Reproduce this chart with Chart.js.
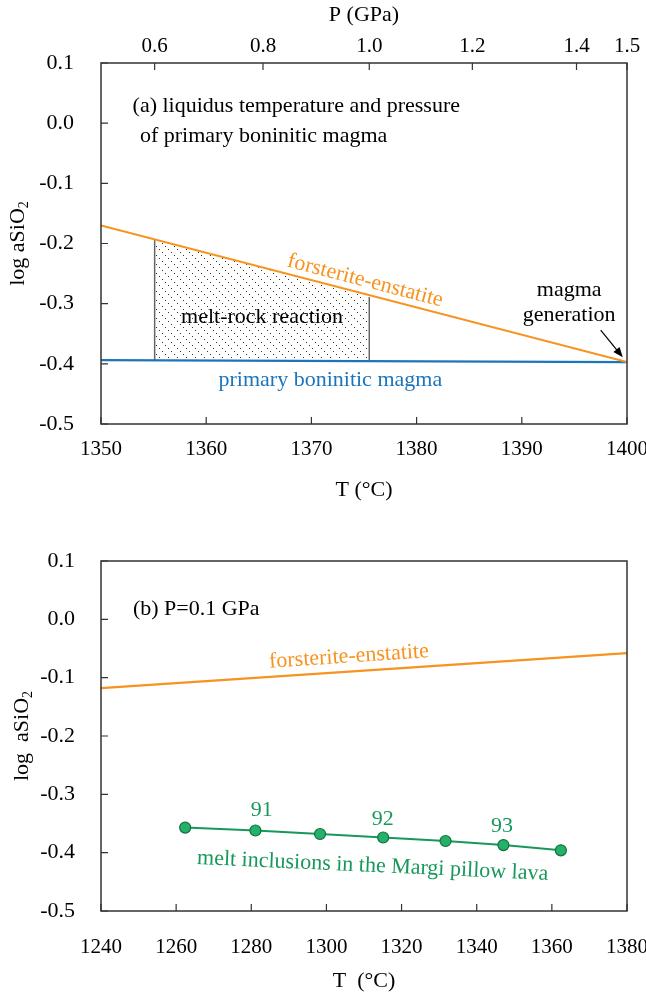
<!DOCTYPE html>
<html>
<head>
<meta charset="utf-8">
<script src="https://cdn.jsdelivr.net/npm/chart.js@4.4.1/dist/chart.umd.min.js"></script>
<style>
  body { margin: 0; background: #fff; }
  canvas { display: block; }
</style>
</head>
<body>
<canvas id="chartA" width="646" height="503"></canvas>
<canvas id="chartB" width="646" height="491"></canvas>
<script>
// ---- panel (a) data ----
const aTemps = [1350, 1400];
const aFoEn = [-0.170, -0.397];
const aPrimary = [-0.394, -0.397];
const hatchTemps = [1355.1, 1375.5];
const hatchTop = [-0.193, -0.289];
const hatchBottom = [-0.395, -0.396];
const pLabels = ['0.6', '0.8', '1.0', '1.2', '1.4', '1.5'];
const pTickTemps = [1355.1, 1365.4, 1375.5, 1385.3, 1395.2, 1400];

// ---- panel (b) data ----
const bTemps = [1240, 1380];
const bFoEn = [-0.118, -0.058];
const meltTemps = [1262.4, 1281.1, 1298.3, 1315.1, 1331.7, 1347.1, 1362.4];
const meltLogA = [-0.357, -0.362, -0.368, -0.374, -0.380, -0.387, -0.396];
const foLabels = ['91', '92', '93'];
const foTemps = [1282.8, 1315.0, 1346.7];
const foLogA = [-0.328, -0.342, -0.355];

const ORANGE = '#F7931E';
const BLUE = '#1B75BC';
const GREEN = '#17985A';
const FONT = 'Liberation Serif';

Chart.defaults.font.family = FONT;
Chart.defaults.color = '#000';

function pts(xs, ys) {
    return xs.map((x, i) => ({x: x, y: ys[i]}));
}

// dotted diagonal hatch
function makeHatch() {
    const c = document.createElement('canvas');
    c.width = 9;
    c.height = 9;
    const g = c.getContext('2d');
    g.fillStyle = '#333';
    for (let i = 0; i < 9; i += 3) g.fillRect(i, i, 1, 1);
    return g.createPattern(c, 'repeat');
}

function noSidePad(s) {
    s.paddingLeft = 0;
    s.paddingRight = 0;
}

function yScale(pad) {
    return {
        type: 'linear', position: 'left', min: -0.5, max: 0.1,
        grid: {display: false, drawTicks: false}, border: {display: false},
        ticks: {
            stepSize: 0.1, padding: pad, font: {size: 22},
            callback: v => { const r = Math.round(v * 10) / 10; return (r === 0 ? 0 : r).toFixed(1); }
        },
        afterFit: s => { s.width = 101; }
    };
}

// frame, inward ticks, y title with subscript, notes and arrows
const decoPlugin = {
    id: 'deco',
    afterDraw(chart, args, opts) {
        const {ctx, chartArea: a, scales} = chart;
        ctx.save();
        ctx.strokeStyle = '#333';
        ctx.lineWidth = 1.5;
        ctx.strokeRect(a.left, a.top, a.right - a.left, a.bottom - a.top);
        ctx.lineWidth = 1.2;
        Object.values(scales).forEach(s => {
            ctx.beginPath();
            s.ticks.forEach(t => {
                const p = s.getPixelForValue(t.value);
                if (s.position === 'left') { ctx.moveTo(a.left, p); ctx.lineTo(a.left + 7, p); }
                else if (s.position === 'bottom') { ctx.moveTo(p, a.bottom); ctx.lineTo(p, a.bottom - 7); }
                else if (s.position === 'top') { ctx.moveTo(p, a.top); ctx.lineTo(p, a.top + 7); }
            });
            ctx.stroke();
        });
        ctx.restore();

        // y axis title
        ctx.save();
        ctx.translate(opts.titleX, (a.top + a.bottom) / 2);
        ctx.rotate(-Math.PI / 2);
        ctx.fillStyle = '#000';
        ctx.textBaseline = 'middle';
        ctx.textAlign = 'left';
        ctx.font = '22px "' + FONT + '"';
        const wm = ctx.measureText(opts.title).width;
        ctx.font = '14px "' + FONT + '"';
        const ws = ctx.measureText('2').width;
        ctx.font = '22px "' + FONT + '"';
        ctx.fillText(opts.title, -(wm + ws) / 2, 0);
        ctx.font = '14px "' + FONT + '"';
        ctx.fillText('2', -(wm + ws) / 2 + wm, 6);
        ctx.restore();

        const x = scales.x, y = scales.y;
        (opts.notes || []).forEach(n => {
            ctx.save();
            ctx.translate(x.getPixelForValue(n.x), y.getPixelForValue(n.y));
            let ang = (n.angle || 0) * Math.PI / 180;
            if (n.follow !== undefined) {
                const d = chart.getDatasetMeta(n.follow).data;
                ang = Math.atan2(d[d.length - 1].y - d[0].y, d[d.length - 1].x - d[0].x);
            }
            ctx.rotate(ang);
            ctx.font = '22px "' + FONT + '"';
            ctx.fillStyle = n.color || '#000';
            ctx.textAlign = n.align || 'center';
            ctx.textBaseline = 'middle';
            ctx.fillText(n.text, 0, 0);
            ctx.restore();
        });

        (opts.arrows || []).forEach(r => {
            const x0 = x.getPixelForValue(r.from[0]), y0 = y.getPixelForValue(r.from[1]);
            const x1 = x.getPixelForValue(r.to[0]), y1 = y.getPixelForValue(r.to[1]);
            const ang = Math.atan2(y1 - y0, x1 - x0);
            ctx.save();
            ctx.strokeStyle = '#000';
            ctx.fillStyle = '#000';
            ctx.lineWidth = 1.2;
            ctx.beginPath();
            ctx.moveTo(x0, y0);
            ctx.lineTo(x1 - 8 * Math.cos(ang), y1 - 8 * Math.sin(ang));
            ctx.stroke();
            ctx.translate(x1, y1);
            ctx.rotate(ang);
            ctx.beginPath();
            ctx.moveTo(0, 0);
            ctx.lineTo(-10, -4);
            ctx.lineTo(-10, 4);
            ctx.closePath();
            ctx.fill();
            ctx.restore();
        });
    }
};

const chartA = new Chart(document.getElementById('chartA'), {
    type: 'scatter',
    data: {
        datasets: [
            {data: pts(aTemps, aFoEn), showLine: true, borderColor: ORANGE, borderWidth: 2.2, pointRadius: 0},
            {data: pts(aTemps, aPrimary), showLine: true, borderColor: BLUE, borderWidth: 2.2, pointRadius: 0},
            {data: pts([hatchTemps[0], hatchTemps[0]], [hatchBottom[0], hatchTop[0]]), showLine: true, borderColor: '#666', borderWidth: 1.5, pointRadius: 0},
            {data: pts([hatchTemps[1], hatchTemps[1]], [hatchBottom[1], hatchTop[1]]), showLine: true, borderColor: '#666', borderWidth: 1.5, pointRadius: 0},
            {data: pts(hatchTemps, hatchTop), showLine: true, borderWidth: 0, borderColor: 'rgba(0,0,0,0)', pointRadius: 0, fill: '+1', backgroundColor: makeHatch()},
            {data: pts(hatchTemps, hatchBottom), showLine: true, borderWidth: 0, borderColor: 'rgba(0,0,0,0)', pointRadius: 0}
        ]
    },
    options: {
        responsive: false,
        animation: false,
        layout: {padding: {left: 0, right: 19, top: 0, bottom: 0}},
        scales: {
            x: {
                type: 'linear', position: 'bottom', min: 1350, max: 1400,
                grid: {display: false, drawTicks: false}, border: {display: false},
                ticks: {stepSize: 10, padding: 13, maxRotation: 0, font: {size: 21}, callback: v => String(v)},
                title: {display: true, text: 'T (°C)', font: {size: 22}, padding: 0},
                afterFit: s => { s.height = 79; noSidePad(s); }
            },
            xP: {
                type: 'linear', position: 'top', min: 1350, max: 1400,
                grid: {display: false, drawTicks: false}, border: {display: false},
                afterBuildTicks: s => { s.ticks = pTickTemps.map(v => ({value: v})); },
                ticks: {padding: 4, maxRotation: 0, autoSkip: false, font: {size: 21}, callback: (v, i) => pLabels[i]},
                title: {display: true, text: 'P (GPa)', font: {size: 22}, padding: {top: 2, bottom: 0}},
                afterFit: s => { s.height = 63; noSidePad(s); }
            },
            y: yScale(27)
        },
        plugins: {
            legend: {display: false},
            tooltip: {enabled: false},
            deco: {
                titleX: 18,
                title: 'log aSiO',
                notes: [
                    {text: '(a) liquidus temperature and pressure', x: 1353.0, y: 0.028, align: 'left'},
                    {text: 'of primary boninitic magma', x: 1353.7, y: -0.022, align: 'left'},
                    {text: 'forsterite-enstatite', x: 1375.1, y: -0.262, color: ORANGE, follow: 0},
                    {text: 'melt-rock reaction', x: 1365.3, y: -0.323},
                    {text: 'magma', x: 1394.5, y: -0.278},
                    {text: 'generation', x: 1394.5, y: -0.32},
                    {text: 'primary boninitic magma', x: 1371.8, y: -0.427, color: BLUE}
                ],
                arrows: [{from: [1397.5, -0.344], to: [1399.6, -0.389]}]
            }
        }
    },
    plugins: [decoPlugin]
});

const chartB = new Chart(document.getElementById('chartB'), {
    type: 'scatter',
    data: {
        datasets: [
            {
                data: pts(meltTemps, meltLogA), showLine: true, borderColor: GREEN, borderWidth: 2,
                pointRadius: 5.5, pointBackgroundColor: '#25B06C', pointBorderColor: '#12703E', pointBorderWidth: 1.2
            },
            {data: pts(bTemps, bFoEn), showLine: true, borderColor: ORANGE, borderWidth: 2.2, pointRadius: 0}
        ]
    },
    options: {
        responsive: false,
        animation: false,
        layout: {padding: {left: 0, right: 19, top: 58, bottom: 0}},
        scales: {
            x: {
                type: 'linear', position: 'bottom', min: 1240, max: 1380,
                grid: {display: false, drawTicks: false}, border: {display: false},
                ticks: {stepSize: 20, padding: 24, maxRotation: 0, font: {size: 21}, callback: v => String(v)},
                title: {display: true, text: 'T  (°C)', font: {size: 22}, padding: 0},
                afterFit: s => { s.height = 83; noSidePad(s); }
            },
            y: yScale(26)
        },
        plugins: {
            legend: {display: false},
            tooltip: {enabled: false},
            deco: {
                titleX: 22,
                title: 'log  aSiO',
                notes: [
                    {text: '(b) P=0.1 GPa', x: 1248.5, y: 0.018, align: 'left'},
                    {text: 'forsterite-enstatite', x: 1306.0, y: -0.064, color: ORANGE, follow: 1},
                    ...foLabels.map((t, i) => ({text: t, x: foTemps[i], y: foLogA[i], color: GREEN})),
                    {text: 'melt inclusions in the Margi pillow lava', x: 1312.3, y: -0.423, color: GREEN, angle: 2.6}
                ]
            }
        }
    },
    plugins: [decoPlugin]
});
</script>
</body>
</html>
